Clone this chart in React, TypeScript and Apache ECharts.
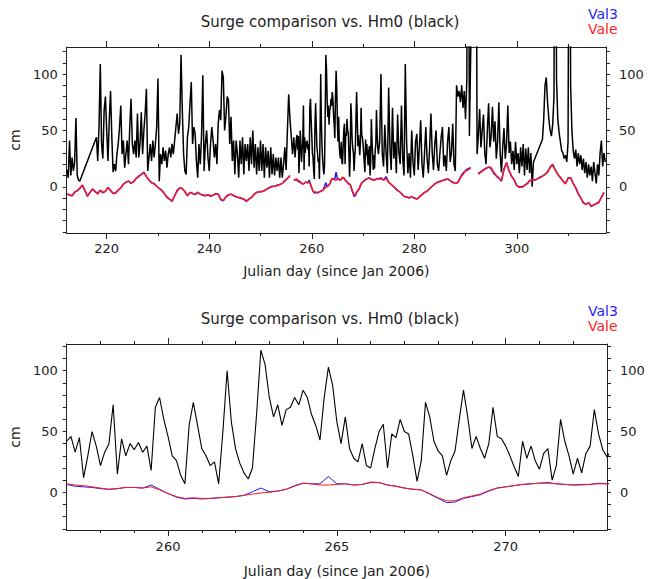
import React, { useEffect, useRef } from "react";
import * as echarts from "echarts";

// ---------- Hm0 (black), cm ----------
const hm0AStart = 212.25; // step 0.25 day
const hm0A = [15, 8, 41, 10, 26, 14, 22, 61, 10, 6, 5];

const hm0BStart = 218.0; // step 0.25 day
const hm0B = [
  44, 23, 53, 109, 38, 25, 68, 80, 50, 23, 59, 85, 44, 13, 20, 14, 29, 38, 53, 72,
  29, 41, 17, 29, 41, 20, 53, 78, 38, 29, 41, 26, 65, 26, 38, 66, 29, 50, 65, 87,
  14, 26, 38, 23, 41, 26, 38, 53, 96, 5, 29, 20, 35, 23, 32, 17, 29, 35, 26, 38,
  29, 41, 53, 65, 47, 56, 117, 68, 29, 14, 11, 44, 53, 74, 93, 38, 53, 47, 23, 8,
  38, 20, 45, 99, 14, 38, 50, 26, 14, 38, 53, 41, 26, 38, 20, 56, 68, 59, 103, 97,
  50, 62, 80, 77, 38, 62, 23, 41, 11, 41, 29, 8, 41, 20, 44, 11, 38, 23, 38, 14,
  44, 20, 50, 17, 38, 11, 35, 14, 41, 14, 38, 8, 35, 17, 32, 8, 35, 11, 29, 10,
  26, 14, 26, 8, 26, 8, 20, 35, 15, 50, 82, 60, 45, 29, 44, 26,
];

const hm0ZoomStart = 257.0; // step 0.125 day
const hm0Zoom = [
  42, 46, 33, 45, 12, 30, 50, 38, 22, 33, 40, 72, 15, 44, 30, 40,
  35, 41, 33, 38, 18, 70, 78, 60, 46, 30, 26, 14, 7, 55, 74, 55,
  36, 30, 22, 25, 7, 50, 100, 58, 36, 24, 16, 11, 20, 65, 117, 105,
  78, 62, 72, 55, 68, 70, 78, 72, 84, 78, 64, 55, 43, 78, 103, 88,
  58, 40, 62, 36, 28, 25, 40, 22, 20, 36, 50, 56, 20, 48, 45, 60,
  50, 48, 30, 9, 26, 74, 62, 42, 34, 30, 14, 26, 34, 60, 84, 62,
  36, 46, 36, 28, 40, 70, 46, 44, 38, 30, 21, 13, 42, 28, 38, 26,
  19, 32, 36, 10, 22, 60, 42, 30, 15, 28, 16, 32, 38, 68, 48, 35,
  29,
];

const hm0CStart = 273.25; // step 0.25 day
const hm0C = [
  40, 100, 30, 18, 55, 30, 12, 88, 35, 15, 70, 25, 40, 12, 64, 30, 20, 72, 25, 10,
  109, 40, 12, 30, 8, 50, 22, 10, 40, 47, 15, 35, 59, 20, 8, 30, 53, 25, 12, 35,
  65, 30, 15, 38, 50, 20, 14, 30, 44, 53, 18, 28, 14, 40, 53, 22, 30, 56, 20, 14,
  90, 80, 85, 75, 90, 70, 85, 60, 95, 400, 45,
];

const hm0DStart = 292.0; // step 0.25 day
const hm0D = [
  400, 29, 45, 69, 35, 50, 64, 30, 20, 50, 74, 35, 45, 71, 40, 58, 25, 40, 75, 30,
  13, 35, 52, 25, 38, 72, 30, 40, 20, 32, 15, 40, 20, 30, 12, 35, 18, 38, 10, 34,
  15, 35, 12, 30, 0, 22,
];

const hm0EStart = 305.0; // step 0.25 day
const hm0E = [
  42, 60, 90, 97, 75, 60, 50, 45, 55, 80, 400, 95, 60, 48, 40, 32, 30, 25, 28, 22,
  40, 400, 90, 50, 32, 25, 33, 18, 30, 20, 28, 15, 25, 12, 22, 8, 20, 10, 18, 5,
  22, 12, 3, 20, 10, 30, 41, 18, 30, 22,
];

// ---------- Vale (red), cm ----------
const valeAStart = 212.25; // step 0.5
const valeA = [
  -6.5, -7, -8, -5, -3.5, -1, 1.5, -3.5, -8, -5,
  -2, -4, -6.5, -3, -5, -4, -0.5, -3.5, -6, -5,
  -3, -1, 2, 4, 5, 3.5, 4.5, 7.5, 9, 11,
  12.5, 9, 6, 3.5, 2.5, 0.5, -1.5, -3.5, -6, -9,
  -11, -12.5, -8, -4, -1, -1.5, -4, -8, -5, -6,
  -6.5, -5, -6.5, -7, -8, -7, -8, -7.5, -6.5, -6.5,
  -11, -12, -9, -7.5, -6.5, -7.5, -9, -9.5, -10, -11,
  -12.5, -11, -9.5, -7, -5, -4.5, -4, -3.5, -2, -1,
  0, 0.5, 1, 2, 3, 5, 7.5, 9.5,
];
const valeBStart = 256.5; // step 0.25
const valeB = [
  6.5, 6, 7, 6, 5.5, 4.5, 3.5, 2.5, 3, 4,
  4, 3.5, 4.5, 2, -1, -3.5, -5, -4.5, -5, -5,
  -4.5, -4, -3.5, -2.5, -1.5, -0.5, 0, 1, 2.5, 5,
  7.5, 7, 6, 6, 6.5, 7, 6, 6.5, 8.5, 8,
  6, 5, 3.5, 2.5, 2, -1, -4.5, -7, -7, -4.5,
  -3, -1.5, 1.5, 3.5, 4.5, 5.5, 6.5, 7, 7.5, 7.5,
  7, 6.5, 6, 6, 6.5, 7, 7,
];
const valeCStart = 273.5; // step 0.5
const valeC = [
  7, 6, 7.5, 4, 2, 0, -2, -4, -6, -8.5,
  -9, -9.5, -9, -10, -11, -9, -7, -5, -4, -1.5,
  0.5, 2.5, 4, 4.5, 5.5, 6, 7, 5.5, 4, 3,
  3.5, 8, 11, 14, 15, 16.5,
];
const valeDStart = 292.5; // step 0.5
const valeD = [
  11, 13, 14.5, 16, 17.5, 17, 13, 10, 8, 5,
  15, 21, 14, 9.5, 6, 1, -0.5, -0.5, 1, 2.5,
  5, 6.5, 6, 7, 8, 9.5, 11, 13, 17, 19.5,
  15, 11, 8.5, 5, 2.5, 7.5, 8, 3, -1, -6,
  -10, -14, -15.5, -14, -17, -16, -15, -14, -9.5, -5,
];

// ---------- Val3 (blue), cm ----------
const val3A = [
  -6, -7.5, -8, -4.5, -3.5, -1.5, 1.5, -3, -8.5, -5,
  -2, -4.5, -6, -3, -5.5, -4, -0.5, -3, -6, -5.5,
  -3, -1, 2.5, 4, 5, 3, 4.5, 7.5, 9.5, 11,
  13, 9, 6, 3.5, 3, 0.5, -1.5, -3, -6, -9.5,
  -11, -13, -8, -3, -1, -1.5, -4.5, -8, -5, -6,
  -7, -5, -6.5, -7.5, -8, -7, -8.5, -7.5, -6, -6.5,
  -11.5, -12.5, -9, -7, -6.5, -8, -9, -9.5, -10.5, -11,
  -13, -11, -9.5, -6.5, -5, -4.5, -4.5, -3.5, -2, -0.5,
  0.5, 0.5, 1.5, 2, 3, 5.5, 7.5, 10,
];
const val3B = [
  6, 6, 6.5, 5, 4.5, 4, 3, 2.5, 3, 4,
  4, 3.5, 6, 2.5, -1, -4, -5.5, -5, -5.5, -5,
  -4.5, -4, -3.5, -2.5, 0.5, 3.5, 0.5, 1, 2.5, 5.5,
  7.5, 7, 7, 13, 7, 7, 6, 6.5, 8, 8,
  6, 5, 3.5, 2.5, 2, -1.5, -5, -8.5, -8, -5,
  -3.5, -2, 1, 3.5, 4.5, 5.5, 6.5, 7, 7.5, 8,
  7, 6.5, 6, 6.5, 6.5, 7.5, 7,
];
const val3C = [
  8, 6, 9, 4, 2, 0, -2.5, -4, -6, -8.5,
  -9, -10, -9, -10, -11, -9, -7, -5, -4, -1.5,
  0.5, 2.5, 4, 5, 5.5, 6.5, 7, 5.5, 4, 3,
  4, 8.5, 12, 14.5, 16, 17,
];
const val3D = [
  12, 13.5, 15, 16.5, 17.5, 16, 12, 9.5, 7.5, 5,
  16, 21.5, 14, 9, 6, 1, 0, 0, 1, 3,
  5.5, 6.5, 6, 7, 8.5, 9.5, 11, 13.5, 17.5, 20,
  15, 11, 8, 5, 3, 8, 8, 3, -1, -6.5,
  -10, -14.5, -15.5, -14, -17.5, -16, -15, -13.5, -9.5, -5,
];

// ---------- axes / ticks ----------
const topXRange = [212.2, 317.4];
const topXLabels = [220, 240, 260, 280, 300];
const topXMinor = [230, 250, 270, 290, 310];
const topYRange = [-41, 124];
const topYTicks = [-40, -30, -20, -10, 0, 10, 20, 30, 40, 50, 60, 70, 80, 90, 100, 110, 120];
const botXRange = [257, 273];
const botXLabels = [260, 265, 270];
const botXMinor = [258, 259, 261, 262, 263, 264, 266, 267, 268, 269, 271, 272];
const botYRange = [-31, 122];
const botYTicks = [-30, -20, -10, 0, 10, 20, 30, 40, 50, 60, 70, 80, 90, 100, 110, 120];
const yLabels = [0, 50, 100];

const titleText = "Surge comparison vs. Hm0 (black)";
const xTitle = "Julian day (since Jan 2006)";

function pairs(start: number, step: number, vals: number[]) {
  return vals.map((v, i) => [start + i * step, v]);
}

const hm0Data = [
  ...pairs(hm0AStart, 0.25, hm0A),
  ...pairs(hm0BStart, 0.25, hm0B),
  ...pairs(hm0ZoomStart, 0.125, hm0Zoom),
  ...pairs(hm0CStart, 0.25, hm0C),
  ...pairs(hm0DStart, 0.25, hm0D),
  ...pairs(hm0EStart, 0.25, hm0E),
];
const gap = [[null, null]];
const valeData = [
  ...pairs(valeAStart, 0.5, valeA), ...gap,
  ...pairs(valeBStart, 0.25, valeB),
  ...pairs(valeCStart, 0.5, valeC), ...gap,
  ...pairs(valeDStart, 0.5, valeD),
];
const val3Data = [
  ...pairs(valeAStart, 0.5, val3A), ...gap,
  ...pairs(valeBStart, 0.25, val3B),
  ...pairs(valeCStart, 0.5, val3C), ...gap,
  ...pairs(valeDStart, 0.5, val3D),
];

const FONT = '"DejaVu Sans", sans-serif';
const AX = "#222";
const lineStyle = { color: AX, width: 1 };

function xAxes(grid: number, range: number[], labels: number[], minor: number[], margin: number, nameGap: number) {
  const base = {
    gridIndex: grid,
    type: "value",
    min: range[0],
    max: range[1],
    splitLine: { show: false },
    axisLine: { show: true, onZero: false, lineStyle },
  };
  return [
    {
      ...base,
      position: "bottom",
      axisTick: { show: true, inside: false, length: 6, customValues: labels, lineStyle },
      axisLabel: { show: true, customValues: labels, margin, fontSize: 13, fontFamily: FONT, color: AX },
      name: xTitle,
      nameLocation: "middle",
      nameGap,
      nameTextStyle: { fontSize: 14, fontFamily: FONT, color: AX },
    },
    {
      ...base,
      position: "bottom",
      axisTick: { show: true, inside: false, length: 3, customValues: minor, lineStyle },
      axisLabel: { show: false },
    },
    {
      ...base,
      position: "top",
      axisTick: { show: true, inside: false, length: 6, customValues: labels, lineStyle },
      axisLabel: { show: false },
    },
    {
      ...base,
      position: "top",
      axisTick: { show: true, inside: false, length: 3, customValues: minor, lineStyle },
      axisLabel: { show: false },
    },
  ];
}

function yAxes(grid: number, range: number[], ticks: number[]) {
  const base = {
    gridIndex: grid,
    type: "value",
    min: range[0],
    max: range[1],
    splitLine: { show: false },
    axisLine: { show: true, onZero: false, lineStyle },
    axisTick: { show: true, inside: false, length: 4, customValues: ticks, lineStyle },
  };
  return [
    {
      ...base,
      position: "left",
      axisLabel: { show: true, customValues: yLabels, margin: 9, fontSize: 13, fontFamily: FONT, color: AX },
      name: "cm",
      nameLocation: "middle",
      nameRotate: 90,
      nameGap: 34,
      nameTextStyle: { fontSize: 14, fontFamily: FONT, color: AX },
    },
    {
      ...base,
      position: "right",
      axisLabel: { show: true, customValues: yLabels, margin: 13, fontSize: 13, fontFamily: FONT, color: AX },
    },
  ];
}

function panelSeries(xi: number, yi: number, blackW: number, surgeW: number) {
  const common = { type: "line", xAxisIndex: xi, yAxisIndex: yi, showSymbol: false, symbol: "none", clip: true, silent: true, connectNulls: false };
  return [
    { ...common, name: "Hm0", data: hm0Data, lineStyle: { color: "#000", width: blackW } },
    { ...common, name: "Val3", data: val3Data, lineStyle: { color: "#1a1aff", width: surgeW } },
    { ...common, name: "Vale", data: valeData, lineStyle: { color: "#ff1a1a", width: surgeW } },
  ];
}

function texts(titleY: number, legY: number) {
  return [
    { type: "text", x: 330, y: titleY, style: { text: titleText, fill: AX, font: `15px ${FONT}`, textAlign: "center", textVerticalAlign: "middle" } },
    { type: "text", x: 588, y: legY, style: { text: "Val3", fill: "#2424ff", font: `14px ${FONT}`, textAlign: "left", textVerticalAlign: "middle" } },
    { type: "text", x: 588, y: legY + 15, style: { text: "Vale", fill: "#ff2424", font: `14px ${FONT}`, textAlign: "left", textVerticalAlign: "middle" } },
  ];
}

export default function App() {
  const ref = useRef<HTMLDivElement>(null);
  useEffect(() => {
    if (!ref.current) return;
    const chart = echarts.init(ref.current, undefined, { renderer: "svg" });
    const option: any = {
      animation: false,
      backgroundColor: "#ffffff",
      grid: [
        { left: 55, top: 47, width: 551, height: 186 },
        { left: 53, top: 344, width: 554, height: 186 },
      ],
      xAxis: [
        ...xAxes(0, topXRange, topXLabels, topXMinor, 9, 31),
        ...xAxes(1, botXRange, botXLabels, botXMinor, 10, 34),
      ],
      yAxis: [...yAxes(0, topYRange, topYTicks), ...yAxes(1, botYRange, botYTicks)],
      series: [...panelSeries(0, 0, 1.5, 1.5), ...panelSeries(4, 2, 1.1, 1)],
      graphic: [...texts(22, 14), ...texts(319, 311)],
    };
    chart.setOption(option);
    return () => chart.dispose();
  }, []);
  return (
    <div
      ref={ref}
      style={{ position: "fixed", left: 0, top: 0, width: 654, height: 579, background: "#fff" }}
    />
  );
}
